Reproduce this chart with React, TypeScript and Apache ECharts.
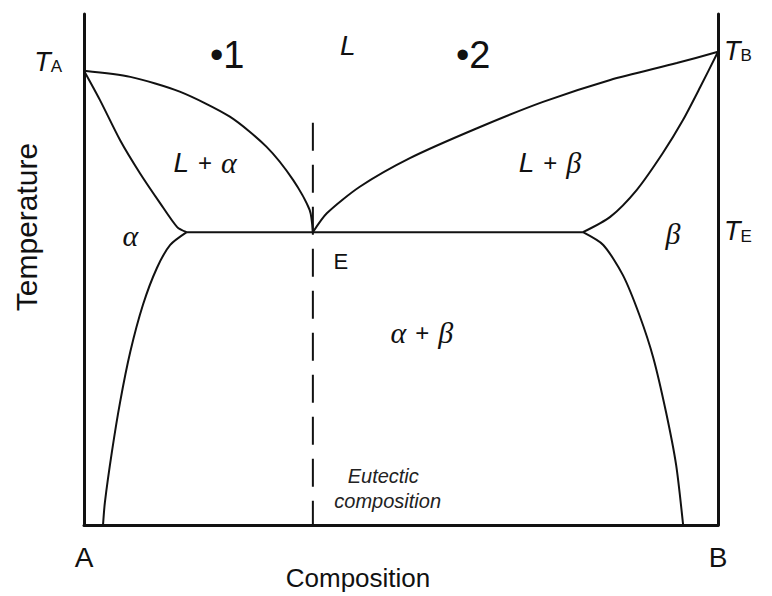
import React, { useEffect, useRef } from "react";
import * as echarts from "echarts";

// Phase boundaries: [composition %B, temperature (relative 0-100)]
const liquidusA = [[0, 88.9], [7.3, 87.7], [15.1, 84.8], [23.0, 79.9], [28.8, 74.0], [33.0, 67.5], [35.6, 61.6], [36.1, 57.3]];
const solidusA = [[0, 88.9], [2.5, 83.2], [5.7, 75.3], [8.8, 68.9], [12.0, 63.0], [14.7, 58.3], [16.2, 57.3]];
const solvusA = [[16.2, 57.3], [13.6, 54.8], [11.5, 50.3], [9.3, 43.1], [7.3, 33.9], [5.7, 24.1], [4.4, 14.3], [3.3, 4.5], [3.0, 0]];
const liquidusB = [[36.1, 57.3], [38.3, 61.0], [43.5, 66.2], [51.4, 71.8], [61.9, 77.6], [72.4, 82.8], [83.0, 87.1], [93.5, 90.4], [100, 92.6]];
const solidusB = [[78.7, 57.3], [83.0, 60.3], [87.2, 65.6], [91.3, 72.8], [94.5, 79.3], [97.2, 85.7], [100, 92.6]];
const solvusB = [[78.7, 57.3], [81.9, 54.8], [85.0, 48.9], [87.6, 41.1], [89.8, 32.7], [91.8, 22.1], [93.4, 11.7], [94.5, 0]];
const eutecticLine = [[16.2, 57.3], [78.7, 57.3]];
const eutecticComposition = [[36.1, 78.7], [36.1, 0]];

// Axis tick labels
const compositionTicks: Record<number, string> = { 0: "A", 100: "B" };

// Temperature markers: [x, y, name, subscript]
const tempMarkersLeft = [[0, 88.9, "T", "A"]];
const tempMarkersRight = [[100, 92.6, "T", "B"], [100, 57.3, "T", "E"]];

// Region labels: [x, y, rich text]
const regionLabels = [
  [22.6, 92.0, "{n|•1}"],
  [41.6, 93.9, "{i|L}"],
  [61.4, 92.0, "{n|•2}"],
  [19.1, 71.0, "{i|L}{p|+}{g|α}"],
  [73.5, 71.0, "{i|L}{p|+}{g|β}"],
  [7.3, 56.6, "{g|α}"],
  [92.9, 57.1, "{g|β}"],
  [40.5, 51.6, "{e|E}"],
  [53.3, 37.6, "{g|α}{p|+}{g|β}"],
  [47.2, 9.6, "{s|Eutectic}"],
  [47.9, 4.7, "{s|composition}"],
];

const SANS = '"Liberation Sans", Arial, Helvetica, sans-serif';
const SERIF = '"Liberation Serif", "Times New Roman", serif';
const INK = "#111111";

const rich = {
  n: { fontFamily: SANS, fontSize: 38, color: INK },
  i: { fontFamily: SANS, fontStyle: "italic", fontSize: 28, color: INK },
  p: { fontFamily: SANS, fontSize: 24, color: INK, padding: [0, 9, 0, 9] },
  g: { fontFamily: SERIF, fontStyle: "italic", fontSize: 30, color: INK },
  e: { fontFamily: SANS, fontSize: 22, color: INK },
  s: { fontFamily: SANS, fontStyle: "italic", fontSize: 20, color: "#222222" },
  t: { fontFamily: SANS, fontStyle: "italic", fontSize: 27, color: INK },
  sub: { fontFamily: SANS, fontSize: 17, color: INK, padding: [10, 0, 0, 0] },
};

function curve(data: number[][]) {
  return {
    type: "line",
    data,
    smooth: 0.25,
    symbol: "none",
    silent: true,
    clip: false,
    lineStyle: { color: INK, width: 2 },
  };
}

function labelSeries(data: any[], label: any) {
  return {
    type: "scatter",
    data,
    symbolSize: 0,
    silent: true,
    clip: false,
    itemStyle: { opacity: 1 },
    label: {
      show: true,
      color: INK,
      opacity: 1,
      formatter: (p: any) => p.data.txt,
      rich,
      ...label,
    },
  };
}

export default function App() {
  const ref = useRef<HTMLDivElement>(null);
  useEffect(() => {
    if (!ref.current) return;
    const chart = echarts.init(ref.current, null, { renderer: "svg" });
    chart.setOption({
      animation: false,
      backgroundColor: "#ffffff",
      textStyle: { color: INK, fontFamily: SANS },
      grid: { left: 84, right: 54, top: 14, bottom: 71 },
      xAxis: {
        type: "value",
        min: 0,
        max: 100,
        interval: 100,
        axisLine: { show: true, onZero: false, lineStyle: { color: INK, width: 3 } },
        axisTick: { show: false },
        splitLine: { show: false },
        axisLabel: {
          show: true,
          showMinLabel: true,
          showMaxLabel: true,
          margin: 18,
          fontFamily: SANS,
          fontSize: 28,
          color: INK,
          formatter: (v: number) => compositionTicks[v] ?? "",
        },
      },
      yAxis: [
        {
          type: "value",
          min: 0,
          max: 100,
          position: "left",
          axisLine: { show: true, onZero: false, lineStyle: { color: INK, width: 3 } },
          axisTick: { show: false },
          axisLabel: { show: false },
          splitLine: { show: false },
        },
        {
          type: "value",
          min: 0,
          max: 100,
          position: "right",
          axisLine: { show: true, onZero: false, lineStyle: { color: INK, width: 3 } },
          axisTick: { show: false },
          axisLabel: { show: false },
          splitLine: { show: false },
        },
      ],
      graphic: [
        {
          type: "text",
          x: 358,
          y: 578,
          style: {
            text: "Composition",
            fontFamily: SANS,
            fontSize: 26,
            fill: INK,
            align: "center",
            verticalAlign: "middle",
          },
        },
        {
          type: "text",
          x: 26,
          y: 227,
          rotation: Math.PI / 2,
          style: {
            text: "Temperature",
            fontFamily: SANS,
            fontSize: 30,
            fill: INK,
            align: "center",
            verticalAlign: "middle",
          },
        },
      ],
      series: [
        curve(liquidusA),
        curve(solidusA),
        curve(solvusA),
        curve(liquidusB),
        curve(solidusB),
        curve(solvusB),
        { ...curve(eutecticLine), smooth: false },
        {
          type: "line",
          data: eutecticComposition,
          symbol: "none",
          silent: true,
          lineStyle: { color: INK, width: 2, type: [28, 14] },
        },
        labelSeries(
          regionLabels.map((d) => ({ value: [d[0], d[1]], txt: d[2] })),
          { position: "inside" }
        ),
        labelSeries(
          tempMarkersLeft.map((d) => ({ value: [d[0], d[1]], txt: `{t|${d[2]}}{sub|${d[3]}}` })),
          { position: "left", distance: 22, offset: [0, -9] }
        ),
        labelSeries(
          tempMarkersRight.map((d) => ({ value: [d[0], d[1]], txt: `{t|${d[2]}}{sub|${d[3]}}` })),
          { position: "right", distance: 6, offset: [0, -1] }
        ),
      ],
    });
    return () => chart.dispose();
  }, []);
  return (
    <div
      ref={ref}
      style={{ position: "fixed", left: 0, top: 0, width: 772, height: 596 }}
    />
  );
}
